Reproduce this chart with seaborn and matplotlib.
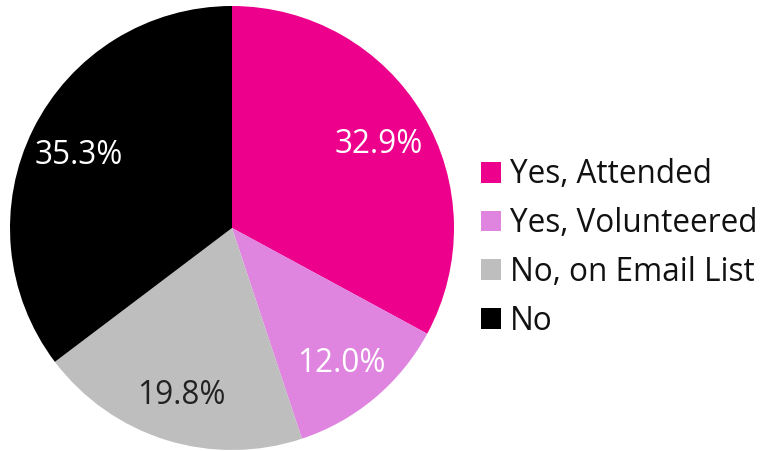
import matplotlib
matplotlib.use("Agg")
import matplotlib.pyplot as plt
from matplotlib.patches import Patch
import seaborn as sns

# Data
categories = ["Yes, Attended", "Yes, Volunteered", "No, on Email List", "No"]
shares = [32.9, 12.0, 19.8, 35.3]
colors = sns.color_palette(["#EC008C", "#DF84DF", "#BEBEBE", "#000000"])
label_colors = ["white", "white", "#222222", "white"]

sns.set_theme(style="white")
plt.rcParams['font.family'] = ['Open Sans', 'DejaVu Sans']
plt.rcParams['text.color'] = '#111111'

fig = plt.figure(figsize=(7.61, 4.51), dpi=100)
ax = fig.add_axes([10 / 761, 1 / 451, 444 / 761, 444 / 451])

wedges, texts, autotexts = ax.pie(
    shares,
    colors=colors,
    startangle=90,
    counterclock=False,
    autopct='%.1f%%',
    pctdistance=0.77,
    radius=1,
    wedgeprops=dict(linewidth=0),
    textprops=dict(fontsize=22.7),
)
for t, c in zip(autotexts, label_colors):
    t.set_color(c)
    t.set_va('center_baseline')
ax.set_xlim(-1, 1)
ax.set_ylim(-1, 1)
ax.set_aspect('equal')

handles = [Patch(facecolor=c, edgecolor='none') for c in colors]
fig.legend(
    handles, categories,
    loc='center left',
    bbox_to_anchor=(481 / 761, 1 - 248 / 451),
    frameon=False,
    fontsize=22.7,
    handlelength=0.63,
    handleheight=0.63,
    handletextpad=0.28,
    labelspacing=0.5,
    borderaxespad=0,
    borderpad=0,
)

plt.savefig("out.png", dpi=100)
